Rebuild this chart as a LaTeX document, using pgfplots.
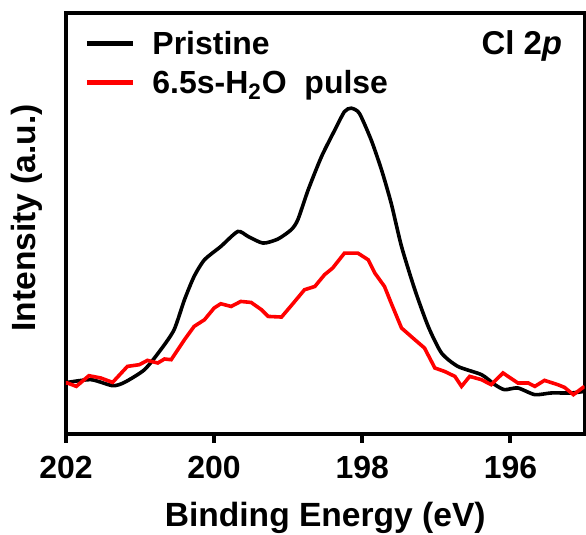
\documentclass[border=0pt]{standalone}
\usepackage{fontspec}
\setmainfont{Liberation Sans}
\usepackage{pgfplots}
\pgfplotsset{compat=1.18}
\begin{document}
\begin{tikzpicture}
\begin{axis}[
  scale only axis,
  width=259.5pt, height=210.25pt,
  x dir=reverse,
  xmin=195, xmax=202,
  ymin=-2, ymax=418.5,
  xtick={202,200,198,196},
  ytick=\empty,
  tick align=outside,
  major tick length=4.5pt,
  xtick pos=bottom,
  every tick/.style={line width=2pt, black},
  axis line style={line width=2pt},
  /pgf/number format/assume math mode=true,
  ticklabel style={font=\bfseries\fontsize{16}{19}\selectfont},
  xticklabel style={anchor=base, yshift=-18pt},
  xlabel={Binding Energy (eV)},
  ylabel={Intensity (a.u.)},
  label style={font=\bfseries\fontsize{16.8}{20}\selectfont},
  xlabel style={at={(axis description cs:0.5,-0.2212)}, anchor=base},
  ylabel style={at={(axis description cs:-0.058,0.5137)}, anchor=base},
  legend style={at={(axis description cs:0,1)}, anchor=north west, draw=none, fill=none,
    inner sep=0pt, outer sep=0pt,
    font=\bfseries\fontsize{16}{19}\selectfont, xshift=9.2pt, yshift=-8.75pt,
    row sep=3.5pt, column sep=8.5pt,
    nodes={inner sep=0pt, text height=12pt, text depth=4pt},
    cells={anchor=base west}},
  legend image code/.code={\draw[#1, line width=2.6pt] (0pt,5.75pt) -- (23pt,5.75pt);},
]
\addplot[black, line width=1.8pt, smooth, tension=0.4] coordinates {
(202.0,49.3)(201.98,49.3)(201.66,52)(201.37,46)(201.21,49.3)(200.94,62)(200.72,82)(200.54,102)
(200.40,132)(200.27,155.3)(200.13,172)(199.91,185.3)(199.68,200.3)(199.54,195.3)(199.34,188.7)
(199.14,192.7)(198.96,202)(198.87,212)(198.73,242)(198.55,275.3)(198.37,302)(198.24,320.3)
(198.15,323.7)(198.04,318.7)(197.88,292)(197.74,262)(197.61,228.7)(197.47,185.3)(197.29,142)
(197.11,105.3)(196.93,78.7)(196.71,65.3)(196.39,57)(196.21,47)(196.08,42)(195.90,43.7)
(195.67,37)(195.45,38.7)(195.18,38.7)(195.00,40.3)
};
\addlegendentry{Pristine}
\addplot[red, line width=1.8pt] coordinates {
(202.0,48.7)(201.98,48.7)(201.86,45.3)(201.69,56)(201.53,53.7)(201.37,49.3)(201.17,65.3)(201.01,67)
(200.90,71.3)(200.76,68.7)(200.67,72.7)(200.58,72)(200.40,92)(200.27,105.3)(200.13,112)
(200.00,123.7)(199.91,128)(199.77,125.3)(199.64,130.3)(199.50,129.3)(199.36,122)(199.27,115.3)
(199.09,114.7)(198.96,126)(198.78,142)(198.64,145.3)(198.51,157)(198.40,163.7)(198.24,178.7)
(198.06,178.7)(197.92,172)(197.83,158.7)(197.70,145.3)(197.61,128.7)(197.47,103.7)(197.29,92)
(197.16,83.7)(197.02,63.7)(196.89,60.3)(196.75,55.3)(196.66,45.3)(196.55,55.3)(196.39,52)
(196.26,47)(196.10,58.7)(195.90,48.7)(195.76,48.7)(195.67,45.3)(195.54,51.3)(195.36,47)
(195.27,44.3)(195.15,37)(195.00,45.3)
};
\addlegendentry{6.5s-H\textsubscript{2}O\ \ pulse}
\node[anchor=base east, inner sep=0pt, font=\bfseries\fontsize{16.5}{19}\selectfont]
  at (rel axis cs:1,1) [xshift=-11pt, yshift=-20.75pt] {Cl 2\textit{p}};
\end{axis}
\pgfresetboundingbox
\path ([shift={(-33pt,-50.5pt)}]current axis.south west) rectangle ([shift={(0.75pt,6.75pt)}]current axis.north east);
\end{tikzpicture}
\end{document}
